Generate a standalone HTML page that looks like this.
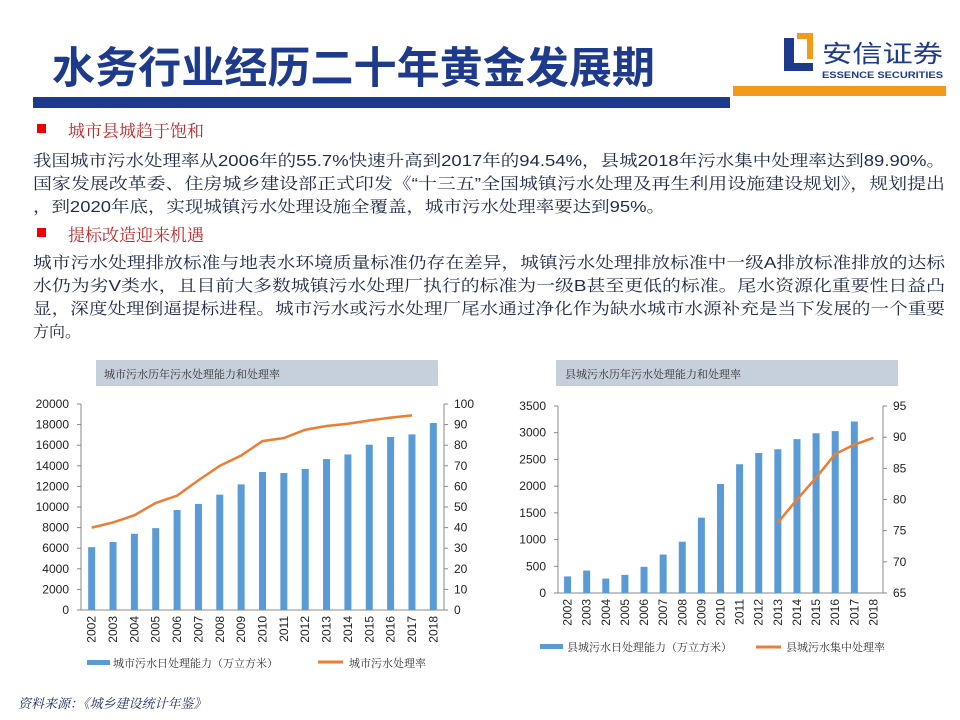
<!DOCTYPE html>
<html><head><meta charset="utf-8"><style>
html,body{margin:0;padding:0;background:#fff;}
svg{display:block;font-family:"Liberation Sans","Noto Sans CJK SC",sans-serif;}
.b{font-family:"Liberation Sans","Noto Serif CJK SC",serif;font-size:16px;fill:#1f2a4a;}
.h{font-family:"Noto Serif CJK SC",serif;font-size:17px;fill:#c0282a;}
.t{font-size:12px;fill:#222;}
.lg{font-family:"Noto Serif CJK SC",serif;font-size:11px;fill:#333;}
</style></head><body>
<svg id="s" width="960" height="720" viewBox="0 0 960 720" xmlns="http://www.w3.org/2000/svg">
<text x="52" y="83" font-family="Liberation Sans,Noto Sans CJK SC,sans-serif" font-size="43" font-weight="bold" fill="#1e3a8c" textLength="603" lengthAdjust="spacingAndGlyphs">水务行业经历二十年黄金发展期</text>
<rect x="33" y="97" width="697" height="11" fill="#1e3a8c"/>
<rect x="733" y="86" width="213" height="10" fill="#f39a1b"/>
<path d="M784 38 h10 v25 h19 v8 h-29z" fill="#1e3a8c"/>
<path d="M797 33 h16 v26 h-6 v-20 h-10z" fill="#f39a1b"/>
<text x="822" y="62" font-family="Noto Sans CJK SC,sans-serif" font-size="24" fill="#1e3a8c" textLength="121" lengthAdjust="spacingAndGlyphs">安信证券</text>
<text x="822" y="78" font-size="9" font-weight="bold" fill="#1e3a8c" textLength="121" lengthAdjust="spacingAndGlyphs">ESSENCE SECURITIES</text>
<rect x="37" y="124" width="9" height="9" fill="#e00"/>
<text class="h" x="68" y="137">城市县城趋于饱和</text>
<text class="b" x="33" y="166" textLength="912" lengthAdjust="spacingAndGlyphs">我国城市污水处理率从2006年的55.7%快速升高到2017年的94.54%，县城2018年污水集中处理率达到89.90%。</text>
<text class="b" x="33" y="189" textLength="912" lengthAdjust="spacingAndGlyphs">国家发展改革委、住房城乡建设部正式印发《“十三五”全国城镇污水处理及再生利用设施建设规划》，规划提出</text>
<text class="b" x="33" y="212" textLength="632" lengthAdjust="spacingAndGlyphs">，到2020年底，实现城镇污水处理设施全覆盖，城市污水处理率要达到95%。</text>
<rect x="37" y="228" width="9" height="9" fill="#e00"/>
<text class="h" x="68" y="241">提标改造迎来机遇</text>
<text class="b" x="33" y="268" textLength="912" lengthAdjust="spacingAndGlyphs">城市污水处理排放标准与地表水环境质量标准仍存在差异，城镇污水处理排放标准中一级A排放标准排放的达标</text>
<text class="b" x="33" y="291" textLength="912" lengthAdjust="spacingAndGlyphs">水仍为劣V类水，且目前大多数城镇污水处理厂执行的标准为一级B甚至更低的标准。尾水资源化重要性日益凸</text>
<text class="b" x="33" y="314" textLength="912" lengthAdjust="spacingAndGlyphs">显，深度处理倒逼提标进程。城市污水或污水处理厂尾水通过净化作为缺水城市水源补充是当下发展的一个重要</text>
<text class="b" x="33" y="337">方向。</text>
<rect x="96" y="360" width="342" height="26" fill="#c6cfdc"/>
<text class="lg" x="104" y="378" font-size="13" fill="#333">城市污水历年污水处理能力和处理率</text>
<rect x="556" y="360" width="342" height="26" fill="#c6cfdc"/>
<text class="lg" x="565" y="378" font-size="13" fill="#333">县城污水历年污水处理能力和处理率</text>
<text x="18" y="708" font-family="Noto Serif CJK SC,serif" font-size="13" font-style="italic" fill="#1e2a66">资料来源：《城乡建设统计年鉴》</text>
<g id="c"></g>
</svg>
<script>
var g=document.getElementById('c'),ns='http://www.w3.org/2000/svg',h='';
function chart(o){
 var n=17,st=(o.x1-o.x0)/n;
 h+='<line x1="'+o.x0+'" y1="'+o.y0+'" x2="'+o.x0+'" y2="'+o.y1+'" stroke="#888"/>';
 h+='<line x1="'+o.x1+'" y1="'+o.y0+'" x2="'+o.x1+'" y2="'+o.y1+'" stroke="#888"/>';
 h+='<line x1="'+o.x0+'" y1="'+o.y1+'" x2="'+o.x1+'" y2="'+o.y1+'" stroke="#888"/>';
 for(var v=0;v<=o.lmax;v+=o.lstep){var y=o.y1-(v/o.lmax)*(o.y1-o.y0);
  h+='<line x1="'+(o.x0-4)+'" y1="'+y+'" x2="'+o.x0+'" y2="'+y+'" stroke="#888"/>';
  h+='<text class="t" x="'+(o.x0-12)+'" y="'+(y+4)+'" text-anchor="end">'+v+'</text>';}
 for(var v=o.rmin;v<=o.rmax;v+=o.rstep){var y=o.y1-((v-o.rmin)/(o.rmax-o.rmin))*(o.y1-o.y0);
  h+='<line x1="'+o.x1+'" y1="'+y+'" x2="'+(o.x1+4)+'" y2="'+y+'" stroke="#888"/>';
  h+='<text class="t" x="'+(o.x1+10)+'" y="'+(y+4)+'">'+v+'</text>';}
 var pts=[];
 for(var i=0;i<n;i++){var cx=o.x0+st*(i+.5);
  var bv=o.bars[i];if(bv!=null){var bh=bv/o.lmax*(o.y1-o.y0);
   h+='<rect x="'+(cx-3.5)+'" y="'+(o.y1-bh)+'" width="7" height="'+bh+'" fill="#5b9bd5"/>';}
  var lv=o.line[i];if(lv!=null)pts.push(cx+','+(o.y1-((lv-o.rmin)/(o.rmax-o.rmin))*(o.y1-o.y0)));
  h+='<text class="t" transform="translate('+(cx+4)+','+(o.y1+6)+') rotate(-90)" text-anchor="end">'+(2002+i)+'</text>';}
 h+='<polyline points="'+pts.join(' ')+'" fill="none" stroke="#ed7d31" stroke-width="2.5"/>';
}
chart({x0:81,x1:444,y0:404,y1:610,lmax:20000,lstep:2000,rmin:0,rmax:100,rstep:10,
 bars:[6100,6600,7400,7950,9700,10300,11200,12200,13400,13300,13700,14650,15100,16050,16800,17050,18150],
 line:[40,42.5,46,52,55.5,63,70,75,82,83.5,87.5,89.3,90.4,92,93.4,94.5,null]});
chart({x0:558,x1:883,y0:406,y1:593,lmax:3500,lstep:500,rmin:65,rmax:95,rstep:5,
 bars:[310,420,270,340,490,720,960,1410,2040,2410,2620,2690,2880,2990,3030,3210,null],
 line:[null,null,null,null,null,null,null,null,null,null,null,76.3,80,83.5,87.3,88.8,89.9]});
h+='<rect x="87" y="660" width="23" height="5" fill="#5b9bd5"/><text class="lg" x="113" y="667">城市污水日处理能力（万立方米）</text>';
h+='<line x1="318" y1="662" x2="343" y2="662" stroke="#ed7d31" stroke-width="3"/><text class="lg" x="349" y="667">城市污水处理率</text>';
h+='<rect x="540" y="644" width="23" height="5" fill="#5b9bd5"/><text class="lg" x="567" y="651">县城污水日处理能力（万立方米）</text>';
h+='<line x1="756" y1="647" x2="781" y2="647" stroke="#ed7d31" stroke-width="3"/><text class="lg" x="786" y="651">县城污水集中处理率</text>';
g.innerHTML=h;
</script>
</body></html>
